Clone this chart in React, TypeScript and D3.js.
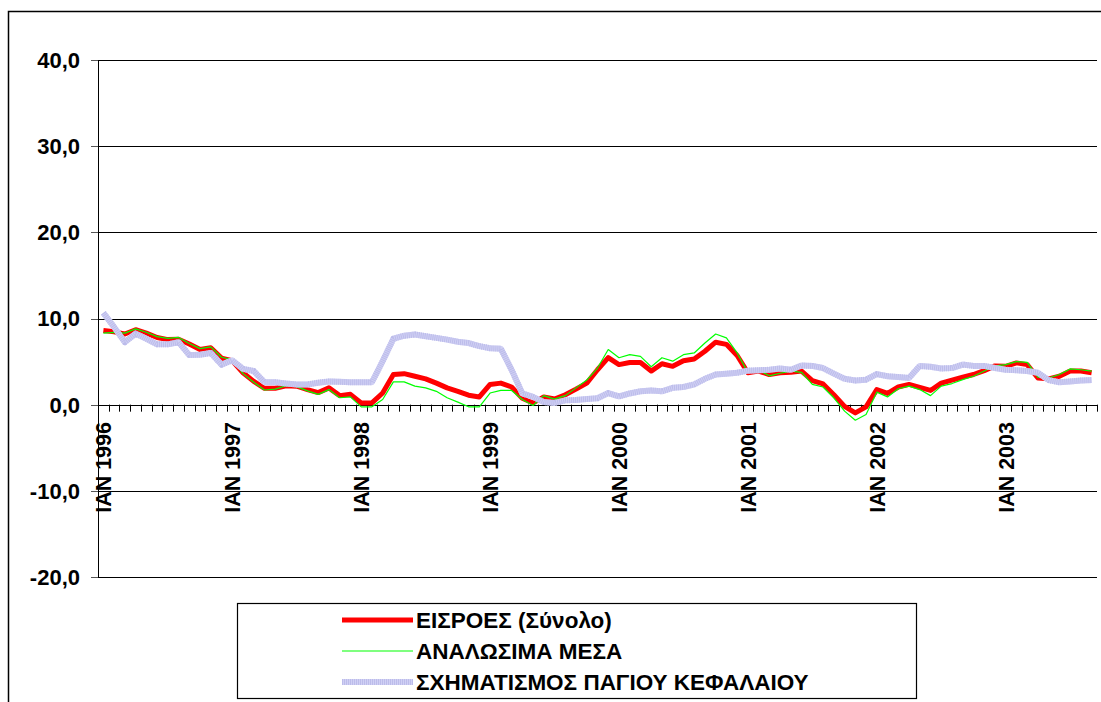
//@ts-nocheck
import * as d3 from "d3";

// month labels (only ΙΑΝ is shown on the axis)
const months = ["ΙΑΝ", "ΦΕΒ", "ΜΑΡ", "ΑΠΡ", "ΜΑΪ", "ΙΟΥΝ", "ΙΟΥΛ", "ΑΥΓ", "ΣΕΠ", "ΟΚΤ", "ΝΟΕ", "ΔΕΚ"];
const years = [1996, 1997, 1998, 1999, 2000, 2001, 2002, 2003];
const categories = years.flatMap(y => months.map(m => `${m} ${y}`)).slice(0, 93);

const yTicks = [-20, -10, 0, 10, 20, 30, 40];

const seriesNames = ["ΕΙΣΡΟΕΣ (Σύνολο)", "ΑΝΑΛΩΣΙΜΑ ΜΕΣΑ", "ΣΧΗΜΑΤΙΣΜΟΣ ΠΑΓΙΟΥ ΚΕΦΑΛΑΙΟΥ"];

const eisroes = [
  8.6, 8.45, 8.2, 8.7, 8.3, 7.8, 7.55, 7.6, 7.05, 6.4, 6.6, 5.4,
  5.1, 3.7, 2.7, 1.9, 1.9, 2.2, 2.15, 1.75, 1.4, 1.95, 1.05, 1.2,
  0.2, 0.2, 1.35, 3.5, 3.6, 3.3, 3.0, 2.5, 1.95, 1.55, 1.1, 0.9,
  2.35, 2.5, 2.05, 0.75, 0.2, 0.9, 0.65, 1.15, 1.8, 2.5, 4.05, 5.45,
  4.65, 4.9, 4.9, 3.9, 4.75, 4.45, 5.1, 5.3, 6.2, 7.25, 7.0, 5.7,
  3.7, 3.9, 3.5, 3.7, 3.75, 3.9, 2.8, 2.4, 1.15, -0.2, -0.95, -0.25,
  1.75, 1.3, 2.05, 2.35, 2.0, 1.65, 2.5, 2.85, 3.2, 3.5, 3.95, 4.5,
  4.45, 4.85, 4.65, 3.1, 3.0, 3.3, 3.9, 3.9, 3.7
];

const analosima = [
  8.3, 8.4, 8.3, 8.8, 8.4, 7.9, 7.7, 7.8, 7.1, 6.5, 6.7, 5.5,
  5.2, 3.6, 2.6, 1.7, 1.8, 2.2, 2.1, 1.6, 1.2, 1.75, 0.8, 0.9,
  -0.25, -0.25, 0.6, 2.65, 2.65, 2.15, 1.95, 1.55, 0.8, 0.3, -0.25, -0.25,
  1.35, 1.65, 1.65, 0.6, -0.1, 1.05, 0.65, 1.05, 1.95, 2.85, 4.25, 6.4,
  5.45, 5.8, 5.6, 4.4, 5.45, 5.05, 5.8, 6.0, 7.15, 8.2, 7.75, 6.0,
  3.75, 4.0, 3.35, 3.65, 3.9, 3.75, 2.35, 2.05, 0.8, -0.75, -1.8, -1.15,
  1.45, 0.9, 1.85, 2.15, 1.75, 1.05, 2.15, 2.45, 2.9, 3.3, 3.9, 4.5,
  4.65, 5.0, 4.9, 3.2, 3.1, 3.5, 4.15, 4.05, 3.9
];

const pagio = [
  10.65, 9.0, 7.25, 8.25, 7.65, 7.0, 7.0, 7.25, 5.75, 5.8, 6.0, 4.65,
  5.15, 4.15, 3.9, 2.6, 2.6, 2.45, 2.35, 2.35, 2.55, 2.7, 2.65, 2.6,
  2.6, 2.6, 5.05, 7.65, 8.0, 8.15, 7.95, 7.75, 7.55, 7.3, 7.15, 6.8,
  6.55, 6.5, 4.05, 1.3, 0.9, 0.3, 0.2, 0.5, 0.55, 0.65, 0.75, 1.35,
  0.95, 1.3, 1.55, 1.65, 1.55, 1.95, 2.05, 2.35, 3.0, 3.5, 3.6, 3.7,
  3.95, 4.0, 4.05, 4.2, 4.05, 4.55, 4.5, 4.25, 3.6, 3.0, 2.8, 2.9,
  3.55, 3.3, 3.2, 3.1, 4.5, 4.4, 4.2, 4.25, 4.65, 4.5, 4.5, 4.25,
  4.05, 4.0, 3.9, 3.7, 2.85, 2.6, 2.7, 2.8, 2.85
];

const W = 1101;
const H = 702;
const font = "'Liberation Sans', Arial, sans-serif";

const fmt = d3.formatLocale({ decimal: ",", thousands: ".", grouping: [3], currency: ["", "€"], minus: "-" }).format(".1f");

export default function App() {
  const x = d3.scaleBand().domain(categories).range([98, 1097]).paddingInner(0).paddingOuter(0);
  const y = d3.scaleLinear().domain([-20, 40]).range([577, 60]);
  const cx = (i: number) => x(categories[i]) + x.bandwidth() / 2;

  const line = d3.line<number>().x((d, i) => cx(i)).y(d => y(d));

  const tickXs = d3.range(categories.length + 1).map(k => 98 + k * x.bandwidth());
  const janIdx = categories.map((c, i) => i).filter(i => i % 12 === 0);

  return (
    <svg width={W} height={H} style={{ position: "absolute", left: 0, top: 0 }} fontFamily={font}>
      <rect x={0} y={0} width={W} height={H} fill="#fff" />
      {/* outer chart frame */}
      <rect x={8.5} y={11.5} width={W + 50} height={H + 50} fill="none" stroke="#000" strokeWidth={1.5} />

      {/* gridlines */}
      {yTicks.filter(t => t !== 0).map(t => (
        <line key={t} x1={98} x2={1097} y1={Math.round(y(t)) + 0.5} y2={Math.round(y(t)) + 0.5} stroke="#000" strokeWidth={1} />
      ))}
      {/* y axis */}
      <line x1={98.5} x2={98.5} y1={y(40)} y2={y(-20)} stroke="#000" />
      {yTicks.map(t => (
        <g key={t}>
          <line x1={91} x2={98} y1={Math.round(y(t)) + 0.5} y2={Math.round(y(t)) + 0.5} stroke="#555" />
          <text x={80} y={y(t)} dy="0.36em" textAnchor="end" fontSize={22} fontWeight="bold" fill="#000">{fmt(t)}</text>
        </g>
      ))}

      {/* category axis at zero */}
      <line x1={98} x2={1097} y1={Math.round(y(0)) + 0.5} y2={Math.round(y(0)) + 0.5} stroke="#000" />
      {tickXs.map((tx, k) => (
        <line key={k} x1={Math.round(tx) + 0.5} x2={Math.round(tx) + 0.5} y1={y(0)} y2={y(0) + 7} stroke="#000" />
      ))}
      {janIdx.map(i => (
        <text key={i} transform={`translate(${cx(i) + 8},422) rotate(-90)`} textAnchor="end" fontSize={21.5} fontWeight="bold" fill="#000">
          {categories[i]}
        </text>
      ))}

      {/* series */}
      <path d={line(eisroes)} fill="none" stroke="#ff0000" strokeWidth={5} strokeLinejoin="round" />
      <path d={line(analosima)} fill="none" stroke="#00ff00" strokeWidth={1.2} strokeLinejoin="round" />
      <path d={line(pagio)} fill="none" stroke="#d0d0f4" strokeWidth={6} strokeLinejoin="round" />
      <path d={line(pagio)} fill="none" stroke="#bcbcea" strokeWidth={6} strokeDasharray="1 1" strokeLinejoin="round" />

      {/* legend */}
      <rect x={237.5} y={603.5} width={679} height={95} fill="#fff" stroke="#000" strokeWidth={1.2} />
      {seriesNames.map((name, i) => {
        const ly = 620 + i * 31;
        return (
          <g key={name}>
            {i === 0 && <line x1={342} x2={413} y1={ly} y2={ly} stroke="#ff0000" strokeWidth={5} />}
            {i === 1 && <line x1={342} x2={413} y1={ly} y2={ly} stroke="#00ff00" strokeWidth={1.2} />}
            {i === 2 && (
              <g>
                <line x1={342} x2={413} y1={ly} y2={ly} stroke="#d0d0f4" strokeWidth={6} />
                <line x1={342} x2={413} y1={ly} y2={ly} stroke="#bcbcea" strokeWidth={6} strokeDasharray="1 1" />
              </g>
            )}
            <text x={416} y={ly} dy="0.36em" fontSize={22.5} fontWeight="bold" fill="#000">{name}</text>
          </g>
        );
      })}
    </svg>
  );
}
